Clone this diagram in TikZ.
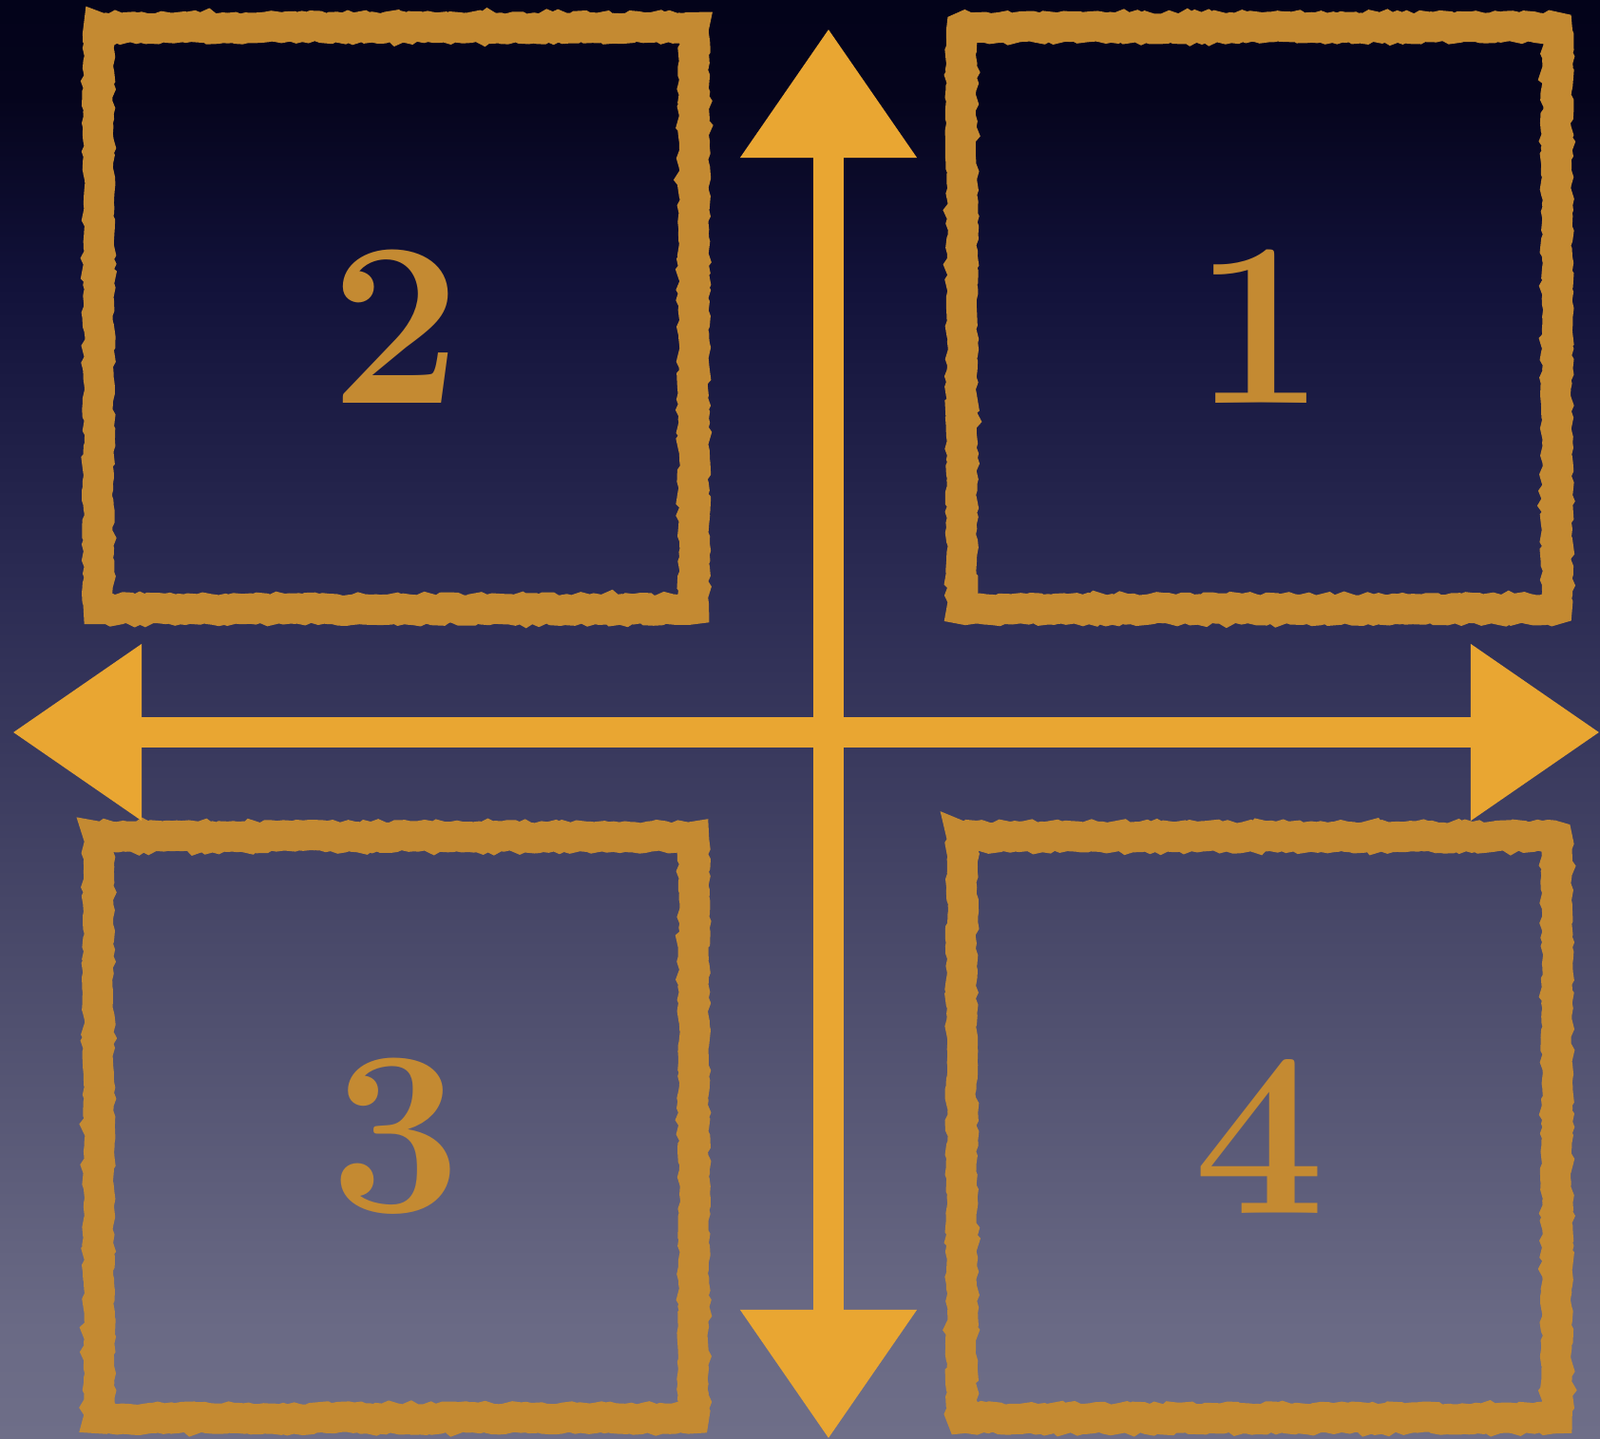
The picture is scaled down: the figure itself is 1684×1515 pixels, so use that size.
\documentclass[tikz,border=0pt]{standalone}
\usepackage{fontspec}
\usetikzlibrary{arrows.meta, decorations.pathmorphing}

\definecolor{skyTop}{HTML}{03031A}
\definecolor{skyA}{HTML}{05041C}
\definecolor{skyB}{HTML}{12123A}
\definecolor{skyC}{HTML}{2A2A52}
\definecolor{skyD}{HTML}{4A4A6A}
\definecolor{skyE}{HTML}{6A6A85}
\definecolor{skyBottom}{HTML}{6E6E88}
\definecolor{frameGold}{HTML}{C48A32}
\definecolor{chalkGold}{HTML}{E9A632}

\pgfdeclareverticalshading{nightsky}{100bp}{%
    color(0bp)=(skyBottom); color(25bp)=(skyBottom); color(28.8bp)=(skyE);
    color(42bp)=(skyD); color(55.2bp)=(skyC); color(65.1bp)=(skyB);
    color(71.7bp)=(skyA); color(75bp)=(skyTop); color(100bp)=(skyTop)}

\tikzset{
    quadbox/.style={
        draw=frameGold, line width=0.32cm,
        minimum width=6.26cm, minimum height=6.12cm, inner sep=0pt,
        decorate, decoration={random steps, segment length=1.5pt, amplitude=0.5pt}
    },
    quadnum/.style={text=frameGold, inner sep=0pt, font=\fontsize{70}{70}\selectfont\bfseries},
    chalkaxis/.style={
        chalkGold, line width=0.32cm,
        {Triangle[width=1.77cm, length=1.36cm]}-{Triangle[width=1.77cm, length=1.36cm]}
    }
}

\begin{document}
\begin{tikzpicture}[x=0.01cm, y=-0.01cm]
    \useasboundingbox (0,0) rectangle (1684,1515);
    \shade[shading=nightsky] (0,0) rectangle (1684,1515);

    % four quadrants
    \node[quadbox] (q1) at (1325.5,335) {};
    \node[quadbox] (q2) at (417,335) {};
    \node[quadbox] (q3) at (417,1187) {};
    \node[quadbox] (q4) at (1325.5,1187) {};

    \node[quadnum] (n1) at ([yshift=-0.09cm]q1.center) {1};
    \node[quadnum] (n2) at ([yshift=-0.09cm]q2.center) {2};
    \node[quadnum] (n3) at ([yshift=-0.09cm]q3.center) {3};
    \node[quadnum] (n4) at ([yshift=-0.09cm]q4.center) {4};

    % axes
    \coordinate (west) at (13,771);
    \coordinate (east) at (1684,771);
    \coordinate (north) at (872,30);
    \coordinate (south) at (872,1515);
    \draw[chalkaxis] (west) -- (east);
    \draw[chalkaxis] (south) -- (north);
\end{tikzpicture}
\end{document}
